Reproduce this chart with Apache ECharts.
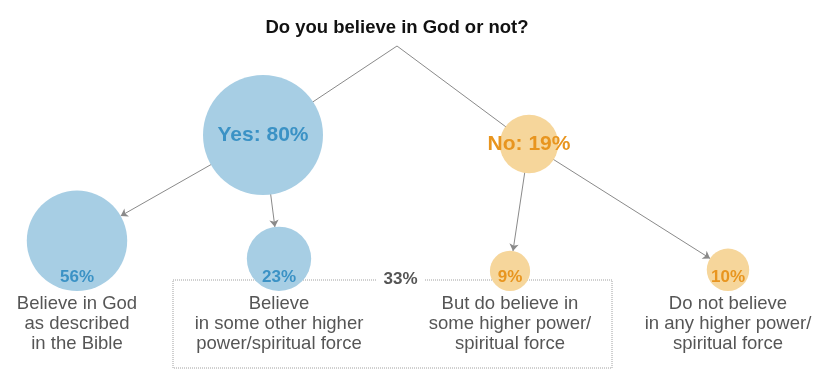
<!DOCTYPE html>
<html>
<head>
<meta charset="utf-8">
<script src="https://cdn.jsdelivr.net/npm/echarts@6/dist/echarts.min.js"></script>
<style>
html,body{margin:0;padding:0;background:#fff;}
#chart{width:833px;height:373px;}
</style>
</head>
<body>
<div id="chart"></div>
<script>
// ---- data ----
const question = 'Do you believe in God or not?';
const nodeIds = ['root', 'yes', 'no', 'bible', 'other', 'higher', 'none'];
const nodeTexts = ['', 'Yes: 80%', 'No: 19%', '56%', '23%', '9%', '10%'];
const nodeValues = [0, 80, 19, 56, 23, 9, 10];
const nodeGroups = ['root', 'yes', 'no', 'yes', 'yes', 'no', 'no'];
const links = [['root', 'yes'], ['root', 'no'], ['yes', 'bible'], ['yes', 'other'], ['no', 'higher'], ['no', 'none']];
const leafIds = ['bible', 'other', 'higher', 'none'];
const leafDescriptions = [
  'Believe in God\nas described\nin the Bible',
  'Believe\nin some other higher\npower/spiritual force',
  'But do believe in\nsome higher power/\nspiritual force',
  'Do not believe\nin any higher power/\nspiritual force'
];
const bracketLabel = '33%';

// ---- layout (diagram placement, separate from data) ----
const layoutX = { root: 397, yes: 263, no: 529, bible: 77, other: 279, higher: 510, none: 728 };
const layoutY = { root: 46, yes: 135, no: 144 };
const leafBaseline = 291;
const areaScale = 45;
const radius = v => Math.sqrt(areaScale * v);
const yOf = (id, v) => layoutY[id] !== undefined ? layoutY[id] : leafBaseline - radius(v);
const bracketBox = [[173, 280], [612, 368]];

const fill = { yes: '#a7cee4', no: '#f6d69b', root: 'transparent' };
const ink = { yes: '#3b92c5', no: '#e8951f', root: '#333' };
const FONT = '"Liberation Sans", Arial, sans-serif';

const graphNodes = nodeIds.map((id, i) => {
  const isTop = id === 'yes' || id === 'no';
  const g = nodeGroups[i];
  return {
    name: id,
    value: [layoutX[id], yOf(id, nodeValues[i])],
    symbol: id === 'root' ? 'none' : 'circle',
    symbolSize: id === 'root' ? 0 : 2 * radius(nodeValues[i]),
    itemStyle: { color: fill[g] },
    label: {
      show: id !== 'root',
      formatter: nodeTexts[i],
      position: isTop ? 'inside' : 'insideBottom',
      distance: isTop ? 0 : 5,
      color: ink[g],
      fontFamily: FONT,
      fontWeight: 'bold',
      fontSize: isTop ? 21 : 17
    }
  };
});

const graphLinks = links.map(([s, t]) => ({
  source: s,
  target: t,
  symbol: s === 'root' ? ['none', 'none'] : ['none', 'arrow'],
  symbolSize: [0, 7]
}));

const leafData = leafIds.map((id, i) => {
  const v = nodeValues[nodeIds.indexOf(id)];
  return {
    value: [layoutX[id], yOf(id, v)],
    symbolSize: 2 * radius(v),
    label: { formatter: leafDescriptions[i] }
  };
});

const chart = echarts.init(document.getElementById('chart'), null, { renderer: 'canvas' });
chart.setOption({
  animation: false,
  backgroundColor: '#ffffff',
  title: {
    text: question,
    left: layoutX.root,
    textAlign: 'center',
    top: 18,
    padding: 0,
    textStyle: { fontFamily: FONT, fontSize: 18.5, fontWeight: 'bold', color: '#111' }
  },
  grid: { left: 0, right: 0, top: 0, bottom: 0 },
  xAxis: { type: 'value', min: 0, max: 833, show: false },
  yAxis: { type: 'value', min: 0, max: 373, inverse: true, show: false },
  series: [
    {
      type: 'scatter',
      z: 1,
      silent: true,
      data: leafData,
      itemStyle: { color: 'rgba(0,0,0,0)' },
      label: {
        show: true,
        position: 'bottom',
        distance: 3,
        align: 'center',
        color: '#2b2b2b',
        fontFamily: FONT,
        fontSize: 18.5,
        lineHeight: 20
      },
      markArea: {
        silent: true,
        itemStyle: { color: 'rgba(0,0,0,0)', borderColor: '#a0a0a0', borderWidth: 1, borderType: 'dotted' },
        label: {
          show: true,
          formatter: bracketLabel,
          position: ['50%', 0],
          offset: [8, 0],
          align: 'center',
          verticalAlign: 'middle',
          backgroundColor: '#fff',
          padding: [2, 7],
          color: '#555',
          fontFamily: FONT,
          fontWeight: 'bold',
          fontSize: 17
        },
        data: [[{ coord: bracketBox[0] }, { coord: bracketBox[1] }]]
      }
    },
    {
      type: 'graph',
      coordinateSystem: 'cartesian2d',
      z: 3,
      silent: true,
      data: graphNodes,
      links: graphLinks,
      lineStyle: { color: '#8a8a8a', width: 1, opacity: 1 },
      edgeSymbolSize: [0, 7]
    }
  ]
});
</script>
</body>
</html>
